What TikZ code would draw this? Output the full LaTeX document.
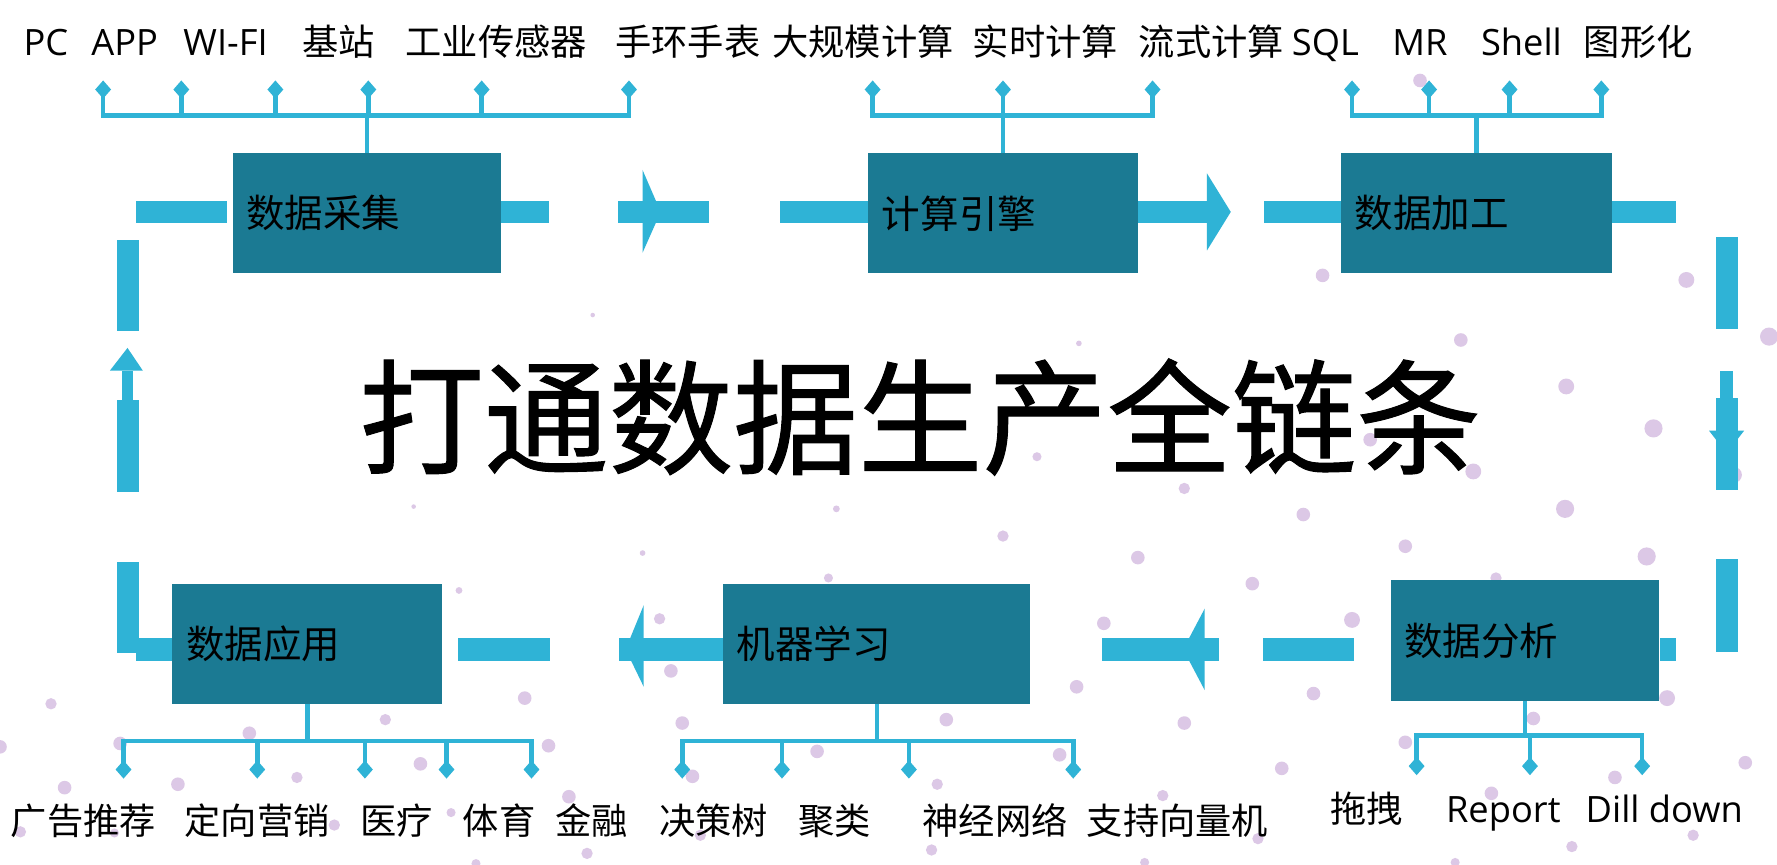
\documentclass[tikz,border=0pt]{standalone}
\usepackage{fontspec}
\setmainfont{Noto Sans CJK SC}
\newfontfamily\latfont{Open Sans}
\newfontfamily\titlefont[FakeBold=0.8]{Noto Sans CJK SC}
\usetikzlibrary{arrows.meta}
\definecolor{barc}{HTML}{2FB3D6}
\definecolor{boxc}{HTML}{1B7A93}
\definecolor{dotc}{HTML}{DCC8E6}
\begin{document}
\begin{tikzpicture}[x=1pt,y=-1pt,
  box/.style={fill=boxc, draw=none, anchor=north west, text width=#1, inner xsep=12pt, inner ysep=0pt,
    minimum height=106pt, align=left, font=\fontsize{34}{40}\selectfont, text=black},
  lbl/.style={anchor=base, inner sep=0pt, font=\fontsize{32}{36}\selectfont, text=black},
  brk/.style={draw=barc, line width=4pt},
  tipd/.style={draw=barc, fill=barc, line width=4pt, -{Diamond[length=16pt,width=14pt]}},
  bar/.style={fill=barc},
  dot/.style={fill=dotc},
  title/.style={anchor=center, inner sep=0pt, font=\titlefont\fontsize{110}{120}\selectfont, text=black}]
\useasboundingbox (0,0) rectangle (1568,763);
\fill[white] (0,0) rectangle (1568,763);

% background dots
\foreach \x/\y/\r in {1253/71/6,1167/243/6,1488/247/7,1561/297/8,952/303/2.5,1289/300/6,1382/341/7,
  1459/378/8,1209/388/6,915/403/4,1300/416/7,1530/419/7,1381/449/8,1045/431/5,1150/454/6,738/449/3,
  885/473/5,1240/482/6,1453/491/8,1004/492/6,567/488/2.5,1105/515/6,731/510/4,1320/510/5,365/447/2,
  523/278/2,405/521/3,582/546/5,592/592/6,45/621/5,463/616/6,340/635/5,602/638/6,220/647/6,484/658/6,
  106/656/6,0/659/6,721/663/6,371/674/6,611/685/6,57/695/6,157/692/6,262/686/5,502/703/6,295/728/5,
  398/717/4,518/753/5,618/737/5,18/734/5,101/735/4,420/762/4,1193/547/7,974/550/6,950/606/6,
  1159/612/6,1471/616/7,835/635/6,1045/638/6,1353/634/6,1240/655/6,935/666/6,1131/678/6,1540/673/6,
  827/692/5,1425/686/6,1026/702/5,1316/700/6,1110/740/5,1494/737/5,822/750/5,1387/747/5,1010/761/4,
  1284/761/4}
  \fill[dot] (\x,\y) circle[radius=\r];

% title
\node[title] (ttl) at (812,368) {打通数据生产全链条};

% boxes
\node[box=213pt] (b1) at (205,135) {数据采集};
\node[box=214pt] (b2) at (766,135) {计算引擎};
\node[box=215pt] (b3) at (1183,135) {数据加工};
\node[box=213pt] (b4) at (1227,512) {数据分析};
\node[box=247pt] (b5) at (638,515) {机器学习};
\node[box=214pt] (b6) at (152,515) {数据应用};

% flow bars, top row
\fill[bar] (120,177) rectangle (200,197);
\fill[bar] (b1.east |- 0,177) rectangle (484,197);
\fill[bar] (545,177) rectangle (626,197);
\fill[bar] (567,150) -- (583,187) -- (567,223) -- cycle;
\fill[bar] (688,177) rectangle (b2.west |- 0,197);
\fill[bar] (b2.east |- 0,177) rectangle (1065,197);
\fill[bar] (1065,153) -- (1086,187) -- (1065,221) -- cycle;
\fill[bar] (1115,177) rectangle (b3.west |- 0,197);
\fill[bar] (b3.east |- 0,177) rectangle (1479,197);
% right column
\fill[bar] (1514,209) rectangle (1534,290);
\fill[bar] (1518,327) rectangle (1529,380);
\fill[bar] (1508,380) -- (1539,380) -- (1523.5,400) -- cycle;
\fill[bar] (1514,351) rectangle (1534,432);
\fill[bar] (1514,493) rectangle (1534,575);
% bottom row
\fill[bar] (b4.east |- 0,563) rectangle (1479,583);
\fill[bar] (1114,563) rectangle (1195,583);
\fill[bar] (972,563) rectangle (1076,583);
\fill[bar] (1063,537) -- (1044,573) -- (1063,609) -- cycle;
\fill[bar] (546,563) rectangle (b5.west |- 0,583);
\fill[bar] (568,534) -- (552,573) -- (568,606) -- cycle;
\fill[bar] (404,563) rectangle (485,583);
\fill[bar] (120,563) rectangle (b6.west |- 0,583);
% left column
\fill[bar] (103,496) rectangle (123,576);
\fill[bar] (103,353) rectangle (123,434);
\fill[bar] (108,327) rectangle (117,353);
\fill[bar] (97,327) -- (112.5,307) -- (126,327) -- cycle;
\fill[bar] (103,212) rectangle (123,292);

% brackets top
\coordinate (h1) at (0,102);
\draw[brk] (b1.north) -- (b1.north |- h1);
\draw[brk, line cap=rect] (91,102) -- (555,102);
\foreach \x in {91,160,243,325,425,555} \draw[tipd] (\x,102) -- (\x,71);
\draw[brk] (b2.north) -- (b2.north |- h1);
\draw[brk, line cap=rect] (770,102) -- (1017,102);
\foreach \x in {770,885,1017} \draw[tipd] (\x,102) -- (\x,71);
\draw[brk] (b3.north) -- (b3.north |- h1);
\draw[brk, line cap=rect] (1193,102) -- (1413,102);
\foreach \x in {1193,1261,1332,1413} \draw[tipd] (\x,102) -- (\x,71);

% brackets bottom
\coordinate (h2) at (0,654);
\coordinate (h3) at (0,649);
\draw[brk] (b6.south) -- (b6.south |- h2);
\draw[brk, line cap=rect] (109,654) -- (469,654);
\foreach \x in {109,227,322,394,469} \draw[tipd] (\x,654) -- (\x,687);
\draw[brk] (b5.south) -- (b5.south |- h2);
\draw[brk, line cap=rect] (602,654) -- (947,654);
\foreach \x in {602,690,802,947} \draw[tipd] (\x,654) -- (\x,687);
\draw[brk] (b4.south) -- (b4.south |- h3);
\draw[brk, line cap=rect] (1250,649) -- (1449,649);
\foreach \x in {1250,1350,1449} \draw[tipd] (\x,649) -- (\x,684);

% top labels
\node[lbl] (l1) at (40.5,49) {\latfont PC};
\node[lbl] (l2) at (110,49) {\latfont APP};
\node[lbl] (l3) at (199,49) {\latfont WI-FI};
\node[lbl] (l4) at (299,49) {基站};
\node[lbl] (l5) at (438,49) {工业传感器};
\node[lbl] (l6) at (607,49) {手环手表};
\node[lbl] (l7) at (761.5,49) {大规模计算};
\node[lbl] (l8) at (922.5,49) {实时计算};
\node[lbl] (l9) at (1069,49) {流式计算};
\node[lbl] (l10) at (1169.5,49) {\latfont SQL};
\node[lbl] (l11) at (1253,49) {\latfont MR};
\node[lbl] (l12) at (1342.5,49) {\latfont Shell};
\node[lbl] (l13) at (1445.5,49) {图形化};

% bottom labels
\node[lbl] (m1) at (73.5,736) {广告推荐};
\node[lbl] (m2) at (227,736) {定向营销};
\node[lbl] (m3) at (350,736) {医疗};
\node[lbl] (m4) at (440.5,736) {体育};
\node[lbl] (m5) at (522,736) {金融};
\node[lbl] (m6) at (629.5,736) {决策树};
\node[lbl] (m7) at (736.5,736) {聚类};
\node[lbl] (m8) at (878,736) {神经网络};
\node[lbl] (m9) at (1039,736) {支持向量机};
\node[lbl] (m10) at (1206,726) {拖拽};
\node[lbl] (m11) at (1326.5,726) {\latfont Report};
\node[lbl] (m12) at (1468.5,726) {\latfont Dill down};
\end{tikzpicture}
\end{document}
